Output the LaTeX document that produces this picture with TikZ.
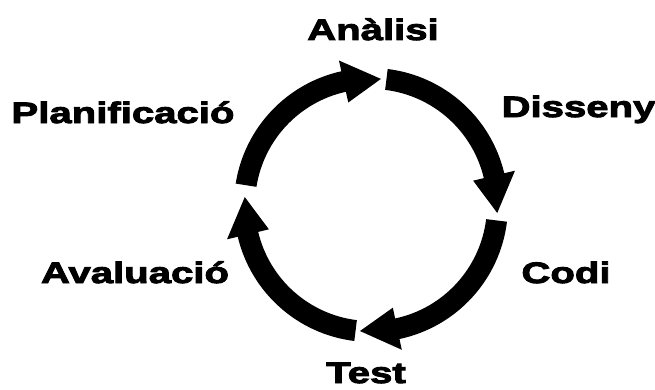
\documentclass[tikz,border=0pt]{standalone}
\usepackage{fontspec}
\newfontfamily\heavy[FakeStretch=1.36,FakeBold=3.2]{Liberation Sans Bold}
\usetikzlibrary{calc}
\tikzset{
  phase/.style={font=\heavy\fontsize{29.5}{29.5}\selectfont, anchor=base, inner sep=0pt},
  cyclearrow/.style={fill=black, draw=none},
}
% thick curved arrow of the cycle: #1 = start angle, #2 = angle of the tip
\newcommand\cycarrow[2]{%
  \fill[cyclearrow] ($(ctr)+(#1:137pt)$)
    arc[start angle=#1, end angle={#2+17}, radius=137pt]
    -- ($(ctr)+({#2+17}:148pt)$)
    -- ($(ctr)+(#2:126.5pt)$)
    -- ($(ctr)+({#2+17}:105pt)$)
    -- ($(ctr)+({#2+17}:116pt)$)
    arc[start angle={#2+17}, end angle=#1, radius=116pt]
    -- cycle;}
\begin{document}
\begin{tikzpicture}[x=1pt,y=1pt]
  \useasboundingbox (0,0) rectangle (655,389);
  \coordinate (ctr) at (371,184);

  % phases of the cycle
  \node[phase] (analisi)  at (373,349) {Anàlisi};
  \node[phase] (disseny)  at (578.5,272) {Disseny};
  \node[phase] (codi)     at (566,106) {Codi};
  \node[phase] (test)     at (366,6) {Test};
  \node[phase] (avaluacio) at (135,106) {Avaluació};
  \node[phase] (planif)   at (123,266) {Planificació};

  % clockwise arrows
  \cycarrow{171}{85.5}
  \cycarrow{83}{-3.6}
  \cycarrow{-7}{-95}
  \cycarrow{-97}{-183.6}
\end{tikzpicture}
\end{document}
